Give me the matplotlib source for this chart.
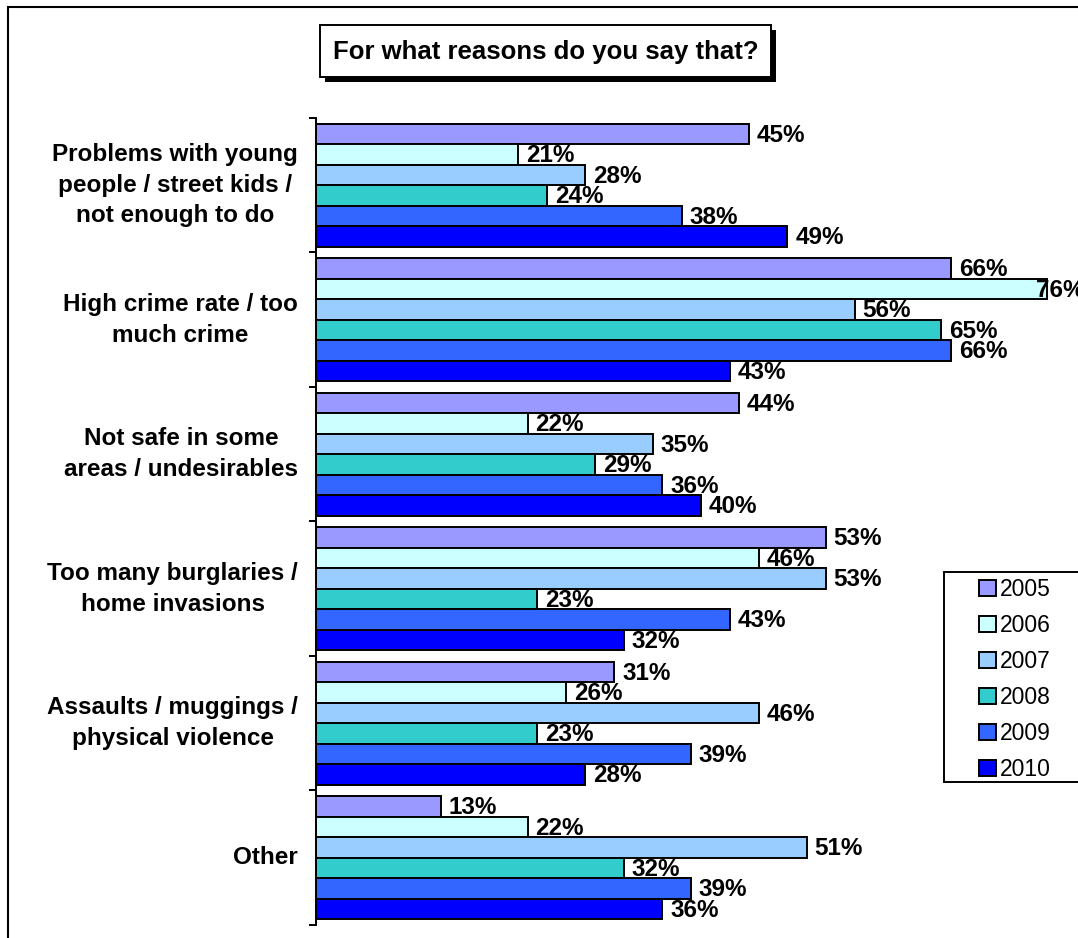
import matplotlib
matplotlib.use("Agg")
import matplotlib.pyplot as plt
import matplotlib.patches as mpatches

plt.rcParams['font.family'] = ['Liberation Sans', 'DejaVu Sans']

title = "For what reasons do you say that?"
categories = [
    "Problems with young\npeople / street kids /\nnot enough to do",
    "High crime rate / too\nmuch crime",
    "Not safe in some\nareas / undesirables",
    "Too many burglaries /\nhome invasions",
    "Assaults / muggings /\nphysical violence",
    "Other",
]
years = ["2005", "2006", "2007", "2008", "2009", "2010"]
v2005 = [45, 66, 44, 53, 31, 13]
v2006 = [21, 76, 22, 46, 26, 22]
v2007 = [28, 56, 35, 53, 46, 51]
v2008 = [24, 65, 29, 23, 23, 32]
v2009 = [38, 66, 36, 43, 39, 39]
v2010 = [49, 43, 40, 32, 28, 36]
series = [v2005, v2006, v2007, v2008, v2009, v2010]
colors = ["#9999FF", "#CCFFFF", "#99CCFF", "#33CCCC", "#3366FF", "#0000FF"]

W, H = 1078, 938
fig = plt.figure(figsize=(W / 100, H / 100), dpi=100)

def fx(px):
    return px / W

def fy(py):
    return 1 - py / H

# outer frame (extends beyond right/bottom edge)
fig.patches.append(mpatches.Rectangle((fx(8), -0.1), 1.2, fy(7) + 0.1,
                                      transform=fig.transFigure, fill=False,
                                      edgecolor='black', linewidth=1.5, zorder=0))

ax_left = fx(316)
ax_top = fy(118)
ax_bot = fy(925)
ax = fig.add_axes([ax_left, ax_bot, 1 - ax_left, ax_top - ax_bot])
px_per_unit = (749 - 316) / 45.0
xmax = (W - 316) / px_per_unit
ax.set_xlim(0, xmax)
n = len(categories)
ax.set_ylim(n - 0.5, -0.5)

bh = 20.5 / 134.5
start = -3 * bh
xclamp = (1036 - 316) / px_per_unit
for j, (vals, col) in enumerate(zip(series, colors)):
    ys = [i + start + (j + 0.5) * bh for i in range(n)]
    ax.barh(ys, vals, height=bh, color=col, edgecolor='black', linewidth=1.4,
            label=years[j], zorder=2)
    for y, v in zip(ys, vals):
        x = min(v + 0.8, xclamp)
        ax.text(x, y + 0.01, f"{v}%", ha='left', va='center', fontsize=17.5,
                fontweight='bold', zorder=3, clip_on=False)

for s in ['top', 'right', 'bottom']:
    ax.spines[s].set_visible(False)
ax.spines['left'].set_linewidth(1.4)
ax.set_xticks([])
ax.set_yticks([i - 0.5 for i in range(n + 1)])
ax.set_yticklabels([])
ax.tick_params(axis='y', length=5, width=1.4, direction='out')
ax.patch.set_alpha(0)

for i, c in enumerate(categories):
    ax.text(-18 / px_per_unit, i, c, ha='right', va='center', ma='center',
            fontsize=17.5, fontweight='bold', linespacing=1.42, clip_on=False)

# title box with shadow
bx0, bx1, by0, by1 = 320, 771, 25, 77
fig.patches.append(mpatches.Rectangle((fx(bx0 + 5), fy(by1 + 5)), fx(bx1) - fx(bx0),
                                      fy(by0) - fy(by1), transform=fig.transFigure,
                                      facecolor='black', edgecolor='none', zorder=1))
fig.patches.append(mpatches.Rectangle((fx(bx0), fy(by1)), fx(bx1) - fx(bx0),
                                      fy(by0) - fy(by1), transform=fig.transFigure,
                                      facecolor='white', edgecolor='black',
                                      linewidth=1.4, zorder=2))
fig.text(fx((bx0 + bx1) / 2), fy((by0 + by1) / 2 + 1), title, ha='center', va='center',
         fontsize=18.5, fontweight='bold', zorder=3)

# legend
fig.patches.append(mpatches.Rectangle((fx(944), fy(782)), 0.2, fy(572) - fy(782),
                                      transform=fig.transFigure, facecolor='white',
                                      edgecolor='black', linewidth=1.4, zorder=1))
handles = [mpatches.Patch(facecolor=c, edgecolor='black', linewidth=1.4) for c in colors]
leg = fig.legend(handles, years, loc='upper left',
                 bbox_to_anchor=(fx(979), fy(578)), frameon=False,
                 fontsize=16.5, handlelength=0.72, handleheight=0.72, handletextpad=0.2,
                 labelspacing=0.57, borderpad=0, borderaxespad=0)
leg.set_zorder(5)

fig.savefig("out.png", dpi=100)
